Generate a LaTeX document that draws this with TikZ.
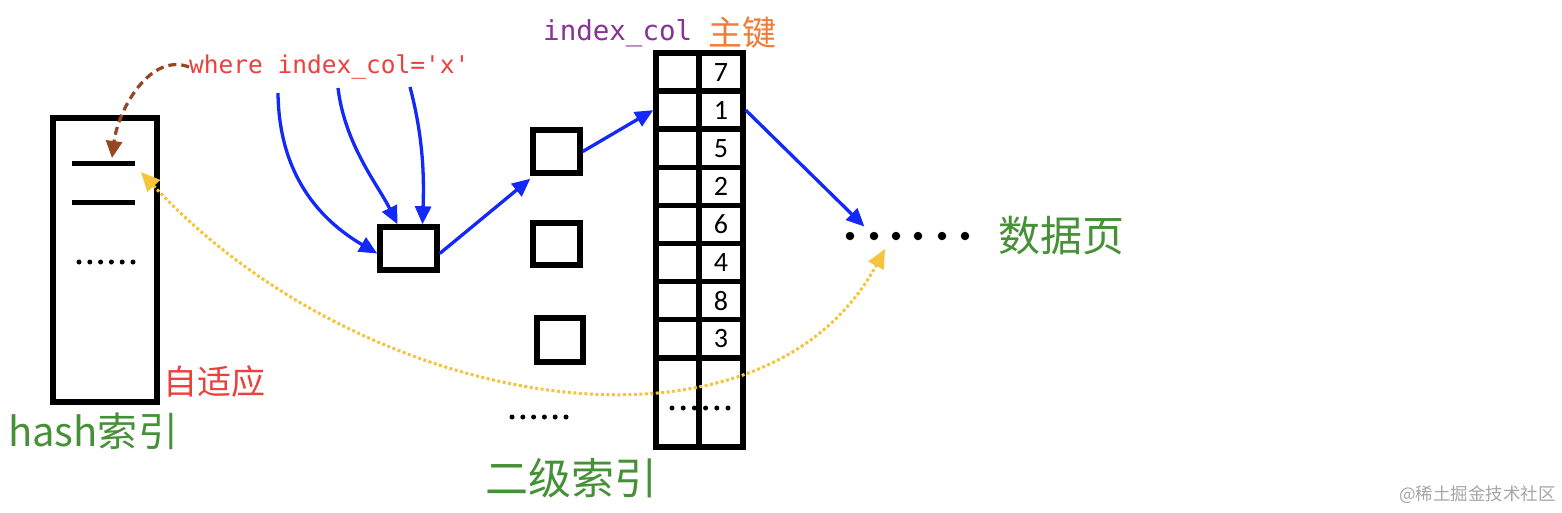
\documentclass[tikz,border=0pt]{standalone}
\usepackage{fontspec}
\setmainfont{Noto Sans CJK SC}
\newfontfamily\monofont{DejaVu Sans Mono}
\newfontfamily\numfont{Carlito}
\usetikzlibrary{arrows.meta}
\definecolor{arrowblue}{RGB}{20,40,250}
\definecolor{brownarrow}{RGB}{150,70,35}
\definecolor{yellowarrow}{RGB}{245,195,60}
\definecolor{labelgreen}{RGB}{70,145,55}
\definecolor{labelred}{RGB}{235,65,60}
\definecolor{labelpurple}{RGB}{135,50,150}
\definecolor{labelorange}{RGB}{240,125,55}
\tikzset{
  box/.style={draw=black,line width=5.5pt,inner sep=0pt,minimum width=#1},
  cellbox/.style={draw=black,line width=5.5pt,inner sep=0pt,minimum width=#1,minimum height=38.1pt},
  bluearrow/.style={draw=arrowblue,line width=3.3pt,-{Triangle[length=18pt,width=16pt]}},
  dotnode/.style={circle,fill=black,inner sep=0pt,minimum size=8.5pt},
  numtext/.style={font=\numfont\fontsize{28}{30}\selectfont},
}
\begin{document}
\begin{tikzpicture}[x=1pt,y=-1pt]
\useasboundingbox (0,0) rectangle (1562,512);
\fill[white] (0,0) rectangle (1562,512);

% hash index box
\node[box=104pt,minimum height=284pt] (hash) at (105,260) {};
\coordinate (h1a) at (72,163);
\coordinate (h1b) at (135,163);
\coordinate (h2a) at (72,202);
\coordinate (h2b) at (135,202);
\draw[line width=5pt] (h1a) -- (h1b);
\draw[line width=5pt] (h2a) -- (h2b);
\foreach \i in {0,...,5} \fill (79+\i*10.8,262) circle (2.5pt);

% labels
\node[anchor=west,text=labelred,font=\monofont\fontsize{24.5}{27}\selectfont,inner sep=0pt] (where) at (189,67) {where index\_col='x'};
\node[anchor=west,text=labelpurple,font=\monofont\fontsize{27.5}{30}\selectfont,inner sep=0pt] (idxcol) at (543,33) {index\_col};
\node[anchor=west,text=labelorange,font=\fontsize{34}{36}\selectfont,inner sep=0pt] (pk) at (708,33) {主键};
\node[anchor=west,text=labelred,font=\fontsize{34}{36}\selectfont,inner sep=0pt] (adapt) at (163,382) {自适应};
\node[anchor=west,text=labelgreen,font=\fontsize{40}{44}\selectfont,inner sep=0pt] (hashlbl) at (8,431) {hash索引};
\node[text=labelgreen,font=\fontsize{43}{46}\selectfont,inner sep=0pt] (seclbl) at (571,478) {二级索引};
\node[anchor=west,text=labelgreen,font=\fontsize{42}{45}\selectfont,inner sep=0pt] (datalbl) at (998,236) {数据页};
\node[anchor=east,text=black!35,font=\fontsize{17.5}{20}\selectfont,inner sep=0pt] (wm) at (1556,495) {@稀土掘金技术社区};

% secondary index boxes
\node[box=57pt,minimum height=43pt] (b1) at (408.5,248.5) {};
\node[box=47pt,minimum height=43pt] (b2) at (556.5,151.5) {};
\node[box=47pt,minimum height=42pt] (b3) at (556.5,244) {};
\node[box=46pt,minimum height=44pt] (b4) at (560,340) {};
\foreach \i in {0,...,5} \fill (512+\i*10.8,417) circle (2.5pt);

% table
\foreach \v [count=\i] in {7,1,5,2,6,4,8,3} {
  \node[cellbox=43pt] (L\i) at (677.5,{53+38.1*(\i-0.5)}) {};
  \node[cellbox=44pt,numtext] (R\i) at (721,{53+38.1*(\i-0.5)}) {\v};
}
\node[box=43pt,minimum height=89pt] (L9) at (677.5,402.5) {};
\node[box=44pt,minimum height=89pt] (R9) at (721,402.5) {};
\foreach \i in {0,...,5} \fill (672+\i*11.2,408) circle (2.5pt);

% data page dots
\foreach \x [count=\i] in {850,874,896,918,942,965}
  \node[dotnode] (d\i) at (\x,236) {};

% free ends
\coordinate (s1) at (278,93);
\coordinate (s2) at (338,88);
\coordinate (s3) at (410,87);
\coordinate (brownend) at (112,158);
\coordinate (yA) at (141,172);
\coordinate (yB) at (885,249);

% brown dashed arrow
\draw[draw=brownarrow,line width=3.2pt,dash pattern=on 8pt off 5pt,-{Triangle[length=17pt,width=16pt]}]
  (where.west) .. controls (150,52) and (118,110) .. (brownend);

% yellow dotted arrow
\draw[draw=yellowarrow,line width=3pt,dash pattern=on 3pt off 2.5pt,
  {Triangle[length=19pt,width=17pt]}-{Triangle[length=19pt,width=17pt]}]
  (yA) .. controls (360,410) and (760,480) .. (yB);

% blue arrows
\draw[bluearrow] (s1) .. controls (279,175) and (320,220) .. ([yshift=-5pt]b1.west);
\draw[bluearrow] (s2) .. controls (345,145) and (378,185) .. ([xshift=-11pt]b1.north);
\draw[bluearrow] (s3) .. controls (424,140) and (424,180) .. ([xshift=14pt]b1.north);
\draw[bluearrow] ([yshift=-5pt]b1.east) -- ([yshift=-3pt]b2.south west);
\draw[bluearrow] (b2.east) -- (L2.west);
\draw[bluearrow,shorten >=9pt] (R2.east) -- (d2);
\end{tikzpicture}
\end{document}
